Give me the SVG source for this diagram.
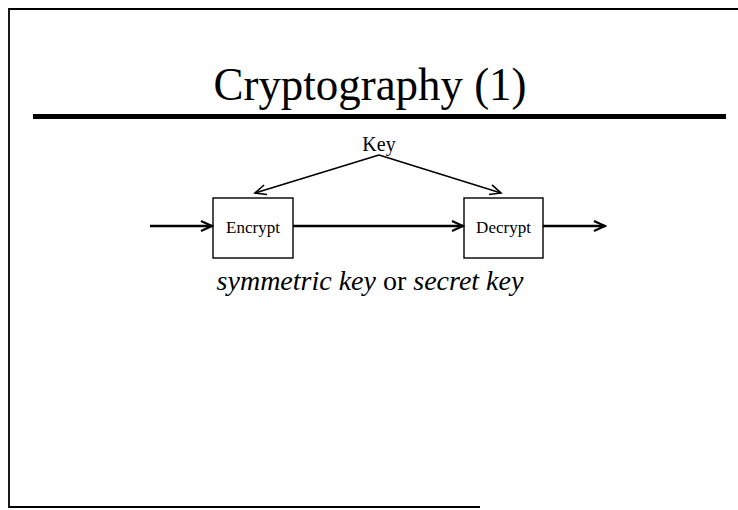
<svg xmlns="http://www.w3.org/2000/svg" width="738" height="510" viewBox="0 0 738 510">
<style>
.t{font-family:"Liberation Serif","Times New Roman",serif;fill:#000}
.box{fill:#fff;stroke:#000;stroke-width:1.4}
.ln{stroke:#000;fill:none}
</style>
<defs>
<marker id="ah" markerWidth="14" markerHeight="12" refX="12" refY="6" orient="auto" markerUnits="userSpaceOnUse">
<path d="M1,1 L12,6 L1,11" fill="none" stroke="#000" stroke-width="2.2"/>
</marker>
<marker id="ak" markerWidth="14" markerHeight="12" refX="12" refY="6" orient="auto" markerUnits="userSpaceOnUse">
<path d="M1,1 L12,6 L1,11" fill="none" stroke="#000" stroke-width="1.6"/>
</marker>
</defs>
<rect width="738" height="510" fill="#fff"/>
<path d="M738,9 L9,9 L9,507 L480,507" class="ln" stroke-width="1.8"/>
<text class="t" x="370" y="100" font-size="46" text-anchor="middle" textLength="313" lengthAdjust="spacingAndGlyphs">Cryptography (1)</text>
<rect x="33" y="114" width="693" height="5" fill="#000"/>
<g id="key"><text class="t" x="379" y="151" font-size="20" text-anchor="middle">Key</text></g>
<g id="encrypt"><rect class="box" x="213" y="198" width="80" height="60"/><text class="t" x="253" y="233" font-size="17" text-anchor="middle">Encrypt</text></g>
<g id="decrypt"><rect class="box" x="464" y="198" width="79" height="60"/><text class="t" x="503.5" y="233" font-size="17" text-anchor="middle">Decrypt</text></g>
<g id="connectors">
<line class="ln" x1="379" y1="155" x2="255" y2="193" stroke-width="1.6" marker-end="url(#ak)"/>
<line class="ln" x1="379" y1="155" x2="501" y2="193" stroke-width="1.6" marker-end="url(#ak)"/>
<line class="ln" x1="150" y1="226" x2="212" y2="226" stroke-width="2.6" marker-end="url(#ah)"/>
<line class="ln" x1="293" y1="226" x2="463" y2="226" stroke-width="2.6" marker-end="url(#ah)"/>
<line class="ln" x1="543" y1="226" x2="605" y2="226" stroke-width="2.6" marker-end="url(#ah)"/>
</g>
<text class="t" x="370" y="290" font-size="28" text-anchor="middle"><tspan font-style="italic">symmetric key</tspan> or <tspan font-style="italic">secret key</tspan></text>
</svg>
